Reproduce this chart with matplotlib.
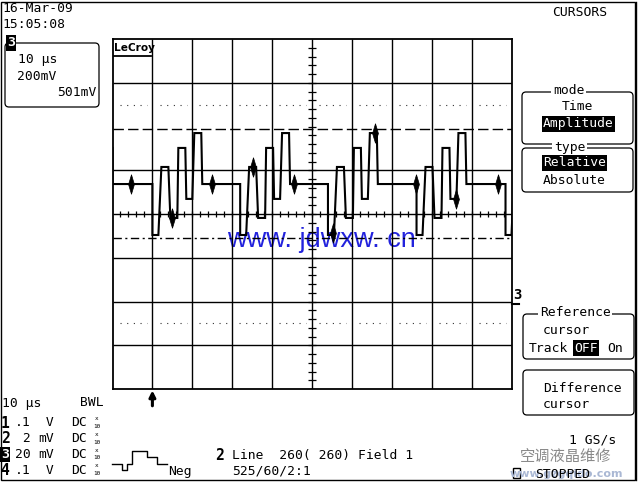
# LeCroy scope screen: channel 3 video staircase, cursors menu
import numpy as np
import matplotlib.pyplot as plt
from matplotlib.patches import FancyBboxPatch, Rectangle

# ---- data (10 us/div, 200 mV/div) ----
# one staircase: time after the falling edge (us) and level (mV)
step_dt = [0.0, 0.0, 1.5, 2.25, 4.0, 4.5, 6.25, 6.5, 8.25, 8.5, 10.0, 10.5, 12.25, 12.5]
step_mv = [137, -96, -96, 215, 215, -18, -18, 302, 302, 69, 69, 370, 370, 137]
edge_t = [-40.0, -18.0, 4.0, 26.2, 48.5]      # falling edges on screen
start_mv = [302, 137]                          # trace at the left border

# noise bursts riding on the trace
burst_t = [-45.25, -35.0, -25.0, -14.75, -4.5, 5.25, 15.75, 26.0, 36.0, 46.5]
burst_mv = [137, -18, 137, 215, 137, -85, 370, 137, 69, 137]

cursor_ref_mv = -111      # dash-dot cursor
cursor_diff_mv = 390      # dashed cursor  (delta = 501 mV)
dotted_mv = [500, -500]
trigger_t = -40.0
ch3_ground_mv = -411

# channel table: number, volts/div, unit
ch_num = ['1', '2', '3', '4']
ch_vdiv = ['.1', ' 2', '20', '.1']
ch_unit = [' V', 'mV', 'mV', ' V']

MONO = 'DejaVu Sans Mono'
FS = 9.4


def build_trace():
    t = [-50.0, -50.0]
    v = list(start_mv)
    for e in edge_t:
        t += [e + d for d in step_dt]
        v += step_mv
    return np.array(t), np.array(v)


def txt(ax, x, y, s, inv=False, **kw):
    opts = dict(family=MONO, fontsize=FS, va='center', ha='left', color='black')
    opts.update(kw)
    if inv:
        opts['color'] = 'white'
        opts['bbox'] = dict(boxstyle='square,pad=0.08', fc='black', ec='none')
    return ax.text(x, y, s, **opts)


def menu_box(ax, x0, y0, x1, y1, title=None, title_x=None):
    ax.add_patch(FancyBboxPatch((x0, y0), x1 - x0, y1 - y0,
                                boxstyle='round,pad=0,rounding_size=4',
                                fc='none', ec='black', lw=0.9))
    if title:
        txt(ax, title_x, y0 - 1, title,
            bbox=dict(boxstyle='square,pad=0.12', fc='white', ec='none'))


def main():
    fig = plt.figure(figsize=(6.4, 4.83), dpi=100)

    # overlay in screen pixels for all the scope text
    ov = fig.add_axes([0, 0, 1, 1])
    ov.set_xlim(0, 640)
    ov.set_ylim(483, 0)
    ov.axis('off')
    ov.add_patch(Rectangle((1, 2), 634, 478, fc='none', ec='black', lw=1.0))

    # graticule
    ax = fig.add_axes([112.5 / 640, (483 - 389) / 483, 399 / 640, 350 / 483])
    ax.set_facecolor('none')
    ax.set_xlim(-50, 50)
    ax.set_ylim(-800, 800)
    ax.set_xticks([])
    ax.set_yticks([])
    for s in ax.spines.values():
        s.set_linewidth(1.3)

    ax.vlines(np.arange(-40, 50, 10), -800, 800, color='black', lw=1.0)
    ax.hlines([-600, -400, -200, 0, 200, 600], -50, 50, color='black', lw=1.0)
    ax.vlines(np.arange(-48, 50, 2), -14, 14, color='black', lw=0.9)
    ax.hlines(np.arange(-760, 800, 40), -1.1, 1.1, color='black', lw=0.9)
    for x0 in np.arange(-50, 50, 10):
        ax.hlines(dotted_mv, x0 + 1.8, x0 + 8.6, color='#333333', lw=0.8,
                  linestyles=[(0, (1, 5))])

    ax.axhline(cursor_diff_mv, color='black', lw=1.0, dashes=(7.5, 3))
    ax.axhline(cursor_ref_mv, color='black', lw=1.0, dashes=(6, 2.5, 1.5, 2.5))

    t, v = build_trace()
    ax.plot(t, v, color='black', lw=1.5, solid_joinstyle='miter')
    spindle = [(0, 1), (0.3, 0), (0, -1), (-0.3, 0), (0, 1)]
    ax.plot(burst_t, burst_mv, ls='none', marker=spindle, ms=14,
            color='black', mew=0.5)

    ax.annotate('', xy=(trigger_t, -0.004), xytext=(trigger_t, -0.048),
                xycoords=('data', 'axes fraction'),
                textcoords=('data', 'axes fraction'),
                arrowprops=dict(arrowstyle='-|>', lw=2.2, color='black',
                                mutation_scale=9, shrinkA=0, shrinkB=0),
                annotation_clip=False)
    ax.annotate('3', xy=(1.002, ch3_ground_mv), xycoords=('axes fraction', 'data'),
                xytext=(1.003, ch3_ground_mv + 8), textcoords=('axes fraction', 'data'),
                family=MONO, fontsize=10, fontweight='bold', ha='left', va='bottom',
                annotation_clip=False)
    ax.plot([1.0, 1.018], [ch3_ground_mv, ch3_ground_mv], color='black', lw=1.5,
            transform=ax.get_yaxis_transform(), clip_on=False)

    # LeCroy logo
    txt(ov, 114, 48, 'LeCroy', family='DejaVu Sans', fontsize=7.6, fontweight='bold')
    ov.plot([114, 151], [56, 56], color='black', lw=1.3)

    # watermark
    ov.text(321, 240, 'www. jdwxw. cn', family='Liberation Sans', fontsize=19.5,
            color='#2222dd', ha='center', va='center')

    # top left
    txt(ov, 2, 9, '16-Mar-09')
    txt(ov, 2, 25, '15:05:08')
    menu_box(ov, 5, 43, 99, 107)
    txt(ov, 11, 43, '3', inv=True, fontweight='bold', ha='center')
    txt(ov, 18, 60, '10 µs')
    txt(ov, 17, 76, '200mV')
    txt(ov, 97, 92, '501mV', ha='right')

    # right menu
    txt(ov, 552, 12, 'CURSORS')
    ov.plot([636, 636], [2, 480], color='black', lw=1.0)
    menu_box(ov, 522, 92, 633, 144, 'mode', 553)
    txt(ov, 562, 107, 'Time')
    txt(ov, 543, 124, 'Amplitude', inv=True)
    menu_box(ov, 522, 148, 633, 192, 'type', 554)
    txt(ov, 543, 163, 'Relative', inv=True)
    txt(ov, 543, 180, 'Absolute')
    menu_box(ov, 523, 314, 634, 359, 'Reference', 540)
    txt(ov, 543, 331, 'cursor')
    txt(ov, 529, 348, 'Track')
    txt(ov, 574, 348, 'OFF', inv=True)
    txt(ov, 607, 348, 'On')
    menu_box(ov, 523, 370, 634, 415)
    txt(ov, 543, 388, 'Difference')
    txt(ov, 543, 405, 'cursor')

    # bottom left channel table
    txt(ov, 2, 403, '10 µs')
    txt(ov, 80, 403, 'BWL')
    for i, ch in enumerate(ch_num):
        y = 423 + i * 15.7
        if ch == '3':
            txt(ov, 5, y, ch, inv=True, fontweight='bold', ha='center')
        else:
            txt(ov, 5, y, ch, fontweight='bold', ha='center', fontsize=10.5)
        txt(ov, 15, y, ch_vdiv[i])
        txt(ov, 38.5, y, ch_unit[i])
        txt(ov, 71, y, 'DC')
        txt(ov, 97, y - 4.2, 'x', fontsize=4.3, ha='center')
        txt(ov, 97, y + 3.4, '10', fontsize=4.3, ha='center')

    # trigger pictogram
    ov.plot([112, 122, 122, 127, 127, 132, 132, 147, 147, 157, 157, 167],
            [464, 464, 470, 470, 464, 464, 451, 451, 457, 457, 464, 464],
            color='black', lw=1.0)
    txt(ov, 168, 472, 'Neg')

    txt(ov, 219, 455, '2', fontweight='bold', ha='center', fontsize=10.5)
    txt(ov, 232, 455, 'Line  260( 260) Field 1')
    txt(ov, 232, 471, '525/60/2:1')

    # bottom right
    txt(ov, 616, 440, '1 GS/s', ha='right')
    ov.text(566, 456, '空调液晶维修', family=['Noto Sans CJK SC', 'DejaVu Sans'],
            fontsize=11, color='#8a8a8a', ha='center', va='center')
    ov.text(566, 474, 'www.gzgqido.com', family='DejaVu Sans', fontsize=8,
            fontweight='bold', color='#aab8d4', ha='center', va='center')
    ov.add_patch(Rectangle((513, 468), 7, 10, fc='white', ec='black', lw=1.0))
    txt(ov, 535, 474, 'STOPPED')

    fig.savefig('out.png', dpi=100)


if __name__ == "__main__": main()
